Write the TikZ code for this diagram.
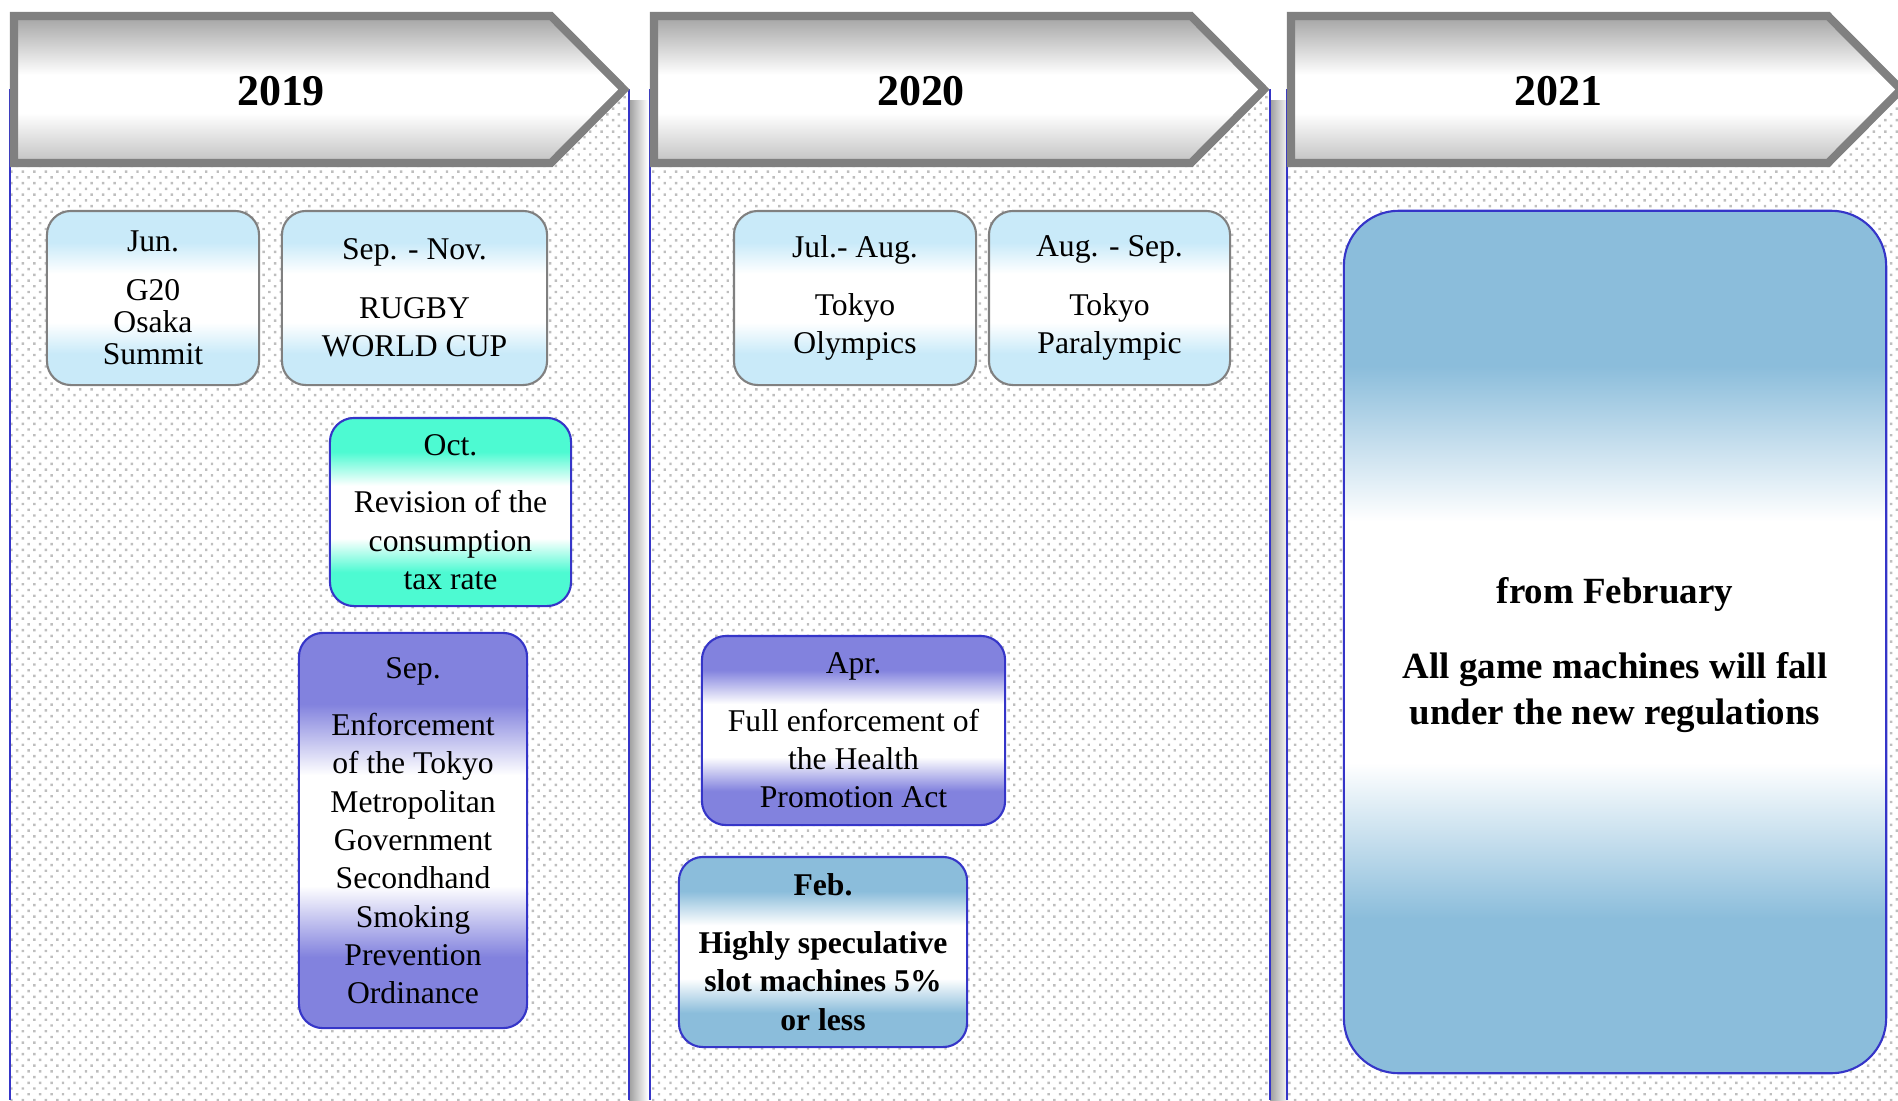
\documentclass[tikz,border=0pt]{standalone}
\usepackage{fontspec}
\setmainfont{Liberation Serif}
\usepackage{xcolor}
\usetikzlibrary{patterns.meta}

\definecolor{lblue}{HTML}{C9EAF9}
\definecolor{aqua}{HTML}{4DFAD2}
\definecolor{lilac}{HTML}{8282DE}
\definecolor{sky}{HTML}{8BBDDB}
\definecolor{rimblue}{HTML}{3535C8}
\definecolor{dotgray}{HTML}{BEBEBE}

% colour - white - colour bands
\newcommand{\bandshade}[2]{\pgfdeclareverticalshading{#1}{100bp}{color(0bp)=(#2); color(34bp)=(#2); color(43bp)=(white); color(57bp)=(white); color(66bp)=(#2); color(100bp)=(#2)}}
\bandshade{lbband}{lblue}
\bandshade{aquaband}{aqua}
\bandshade{lilacband}{lilac}
\bandshade{skyband}{sky}
\pgfdeclareverticalshading{hdband}{100bp}{color(0bp)=(black!24); color(25bp)=(black!24); color(42bp)=(white); color(55bp)=(white); color(75bp)=(black!36); color(100bp)=(black!36)}

\begin{document}
\begin{tikzpicture}[x=0.01cm,y=-0.01cm]
	\tikzstyle{every node}=[font=\fontsize{9}{10.9}\selectfont]
	\tikzstyle{evbox}=[rounded corners=0.24cm, draw=rimblue, line width=0.6pt, align=center, inner sep=2pt]
	\tikzstyle{pale}=[evbox, draw=black!50, shading=lbband]
	\tikzstyle{aquabox}=[evbox, shading=aquaband]
	\tikzstyle{lilacbox}=[evbox, shading=lilacband]
	\tikzstyle{skybox}=[evbox, shading=skyband]
	\useasboundingbox (0,0) rectangle (1898,1100);
	% year panels
	\foreach \ox/\rx in {0/0,640/641,1277/1277} {
		\fill [pattern={Dots[distance=0.081cm, angle=45, radius=0.017cm]}, pattern color=dotgray] ({10+\ox},89) rectangle ({629+\rx},1100);
		\shade [left color=black!38, right color=white] ({629+\rx},100) rectangle ({648+\rx},1100);
		\draw [rimblue, line width=0.7pt] ({10+\ox},89) -- ({10+\ox},1100);
		\draw [rimblue, line width=0.7pt] ({629+\rx},89) -- ({629+\rx},1100);
	}
	% year headers
	\foreach \ox/\yr in {0/2019,640/2020,1277/2021} {
		\shadedraw [shading=hdband, draw=black!50, line width=2.3pt] ({14+\ox},16) -- ({551+\ox},16) -- ({624+\ox},89.5) -- ({551+\ox},163) -- ({14+\ox},163) -- cycle;
		\node [font=\fontsize{12.5}{15}\bfseries\selectfont] (yr\yr) at ({281+\ox},91) {\yr};
	}
	% 2019
	\node [pale, minimum width=2.12cm, minimum height=1.74cm, font=\fontsize{9}{9.1}\selectfont] (summit) at (153,298) {Jun.\\[0.17cm]G20\\Osaka\\Summit};
	\node [pale, minimum width=2.65cm, minimum height=1.74cm] (rugby) at (414.5,298) {Sep. - Nov.\\[0.2cm]RUGBY\\WORLD CUP};
	\node [aquabox, minimum width=2.41cm, minimum height=1.88cm] (taxrate) at (450.5,512) {Oct.\\[0.19cm]Revision of the\\consumption\\tax rate};
	\node [lilacbox, minimum width=2.28cm, minimum height=3.95cm] (smoking) at (413,830.5) {Sep.\\[0.19cm]Enforcement\\of the Tokyo\\Metropolitan\\Government\\Secondhand\\Smoking\\Prevention\\Ordinance};
	% 2020
	\node [pale, minimum width=2.42cm, minimum height=1.74cm] (olympics) at (855,298) {Jul.- Aug.\\[0.2cm]Tokyo\\Olympics};
	\node [pale, minimum width=2.41cm, minimum height=1.74cm] (paralympic) at (1109.5,298) {Aug. - Sep.\\[0.2cm]Tokyo\\Paralympic};
	\node [lilacbox, minimum width=3.03cm, minimum height=1.89cm] (health) at (853.5,730.5) {Apr.\\[0.19cm]Full enforcement of\\the Health\\Promotion Act};
	\node [skybox, minimum width=2.88cm, minimum height=1.90cm, font=\fontsize{9}{11}\bfseries\selectfont] (slots) at (823,952) {Feb.\\[0.19cm]Highly speculative\\slot machines 5\%\\or less};
	% 2021
	\node [skybox, rounded corners=0.55cm, minimum width=5.42cm, minimum height=8.62cm] (allgames) at (1615,642) {};
	\node [align=center, font=\fontsize{10.5}{13}\bfseries\selectfont] (newrules) at (1615,655) {from February\\[0.29cm]All game machines will fall\\under the new regulations};
\end{tikzpicture}
\end{document}
